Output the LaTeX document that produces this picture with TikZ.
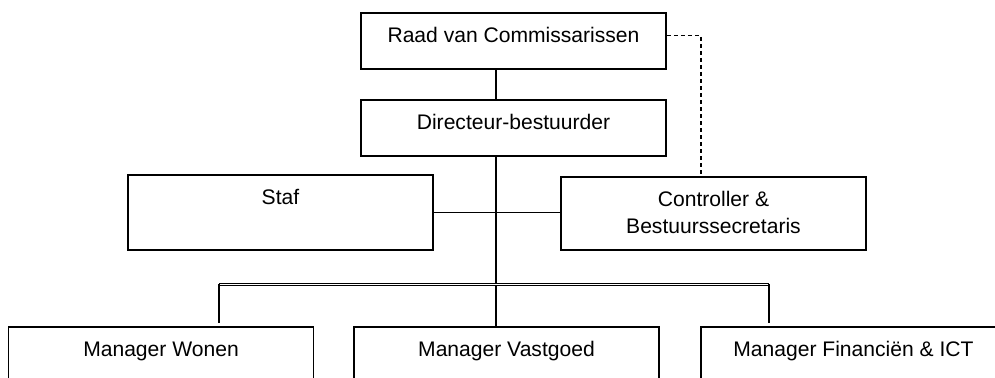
\documentclass[tikz,border=0pt]{standalone}
\usepackage{fontspec}
\setmainfont{Liberation Sans}
\begin{document}
\begin{tikzpicture}
        [
            x = 0.02cm, y = -0.02cm,
            font = \fontsize{12pt}{15.3pt}\selectfont,
            box/.style = {draw, line width = 1pt, anchor = north, inner sep = 0pt,
                align = center, minimum width = 6.1cm,
                text height = 0.6cm, text depth = #1},
            box/.default = 0.52cm,
            link/.style = {line width = 0.6pt},
            bar/.style = {double, line width = 0.5pt, double distance = 0.6pt}
        ]

        \clip (0,0) rectangle (995,378);

        \node [box] (raad) at (513.5,12) {Raad van Commissarissen};
        \node [box] (dir) at (513.5,99) {Directeur-bestuurder};
        \node [box = 0.9cm] (staf) at (280.5,174) {Staf};
        \node [box = 0.32cm, text height = 1.14cm] (ctrl) at (713.5,176) {Controller \&\\Bestuurssecretaris};
        \node [box = 1.2cm] (wonen) at (161,326) {Manager Wonen};
        \node [box = 1.2cm] (vast) at (506.5,326) {Manager Vastgoed};
        \node [box = 1.2cm] (fin) at (853.5,326) {Manager Financiën \& ICT};

        \coordinate (spine) at (496,0);
        \coordinate (barl) at (219,284.5);
        \coordinate (barr) at (769,284.5);

        \draw [link] (raad.south -| spine) -- (dir.north -| spine);
        \draw [link] (dir.south -| spine) -- (vast.north -| spine);
        \draw [link] (staf.east) -- (staf.east -| ctrl.west);
        \draw [link, dash pattern = on 2.3pt off 1.7pt]
            ([yshift = 0.1cm]raad.east) -| ([xshift = -0.25cm]ctrl.north);
        \draw [bar] (barl) -- (barr);
        \draw [link] (barl) -- ([yshift = 0.06cm]barl |- wonen.north);
        \draw [link] (barr) -- ([yshift = 0.06cm]barr |- fin.north);
\end{tikzpicture}
\end{document}
